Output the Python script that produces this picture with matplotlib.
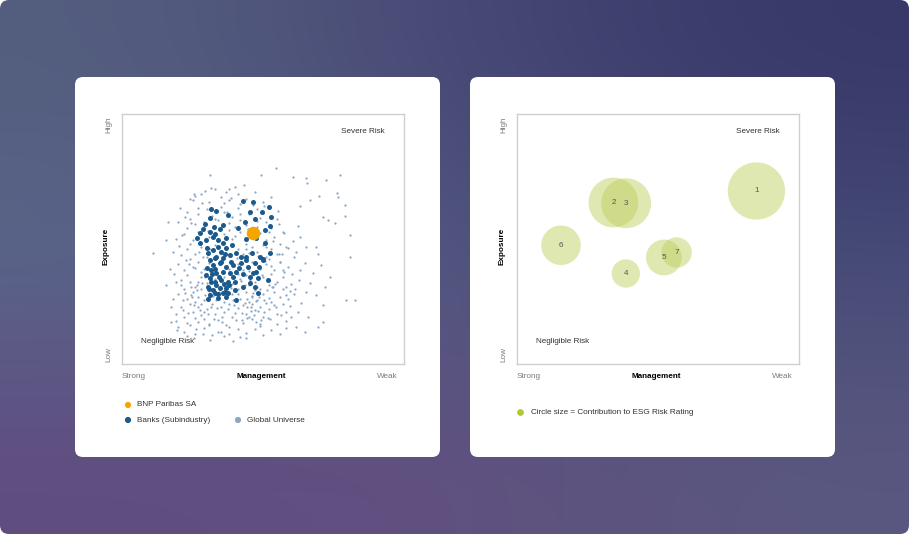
import numpy as np
import matplotlib
matplotlib.use("Agg")
import matplotlib.pyplot as plt
from matplotlib.patches import FancyBboxPatch

plt.rcParams['font.family'] = ['Liberation Sans', 'DejaVu Sans']

W, H = 909, 534

# ---- left chart: global universe (light dots), banks (dark dots), BNP (orange)
universe_x = [
    54.7, 49.4, 31.3, 60.6, 65.4, 77.2, 72.2, 65.5, 76.2, 69.8, 76.6, 66.5, 63.0, 79.0, 71.3, 79.0,
    73.1, 75.4, 62.4, 80.7, 63.2, 68.9, 65.4, 61.8, 80.7, 69.5, 64.8, 70.6, 63.0, 67.7, 73.6, 66.5,
    71.9, 65.4, 68.9, 79.5, 82.5, 63.6, 71.3, 62.4, 65.9, 71.3, 61.8, 64.8, 69.5,
    11.0, 15.5, 16.3, 15.7, 20.4, 17.5, 17.3, 19.5, 25.4, 25.2, 37.9, 44.1, 31.7,
    22, 26, 29, 32, 35, 38, 41, 44, 47, 50, 53, 56, 24, 31, 37, 43, 49, 55, 58, 27, 20, 34, 46,
    19, 22, 25, 28, 30, 33, 36, 39, 41, 44, 47, 50, 52, 55, 58, 60, 21, 24, 27, 29, 32, 35, 38, 40,
    43, 46, 49, 51, 54, 57, 26, 45,
    18, 20, 23, 25, 27, 29, 31, 34, 37, 39, 42, 44, 46, 48, 50, 52, 54, 56, 59, 61, 22, 26, 28, 36,
    41, 45, 49, 53, 57,
    19, 21, 24, 26, 28, 30, 33, 36, 39, 42, 45, 47, 50, 52, 55, 57, 60, 23, 27, 41, 44, 48, 53, 58,
    17, 20, 22, 25, 27, 29, 31, 38, 41, 43, 46, 49, 51, 54, 56, 59, 24, 28, 45, 52, 57,
    18, 21, 23, 26, 28, 30, 38, 41, 43, 46, 48, 51, 53, 55, 58, 24, 33, 44, 50, 56,
    19, 22, 25, 27, 31, 36, 39, 42, 45, 49, 51, 54, 57, 23, 29, 34, 40, 48, 53, 38, 44,
    20, 24, 27, 29, 33, 36, 39, 42, 45, 48, 51, 55, 23, 30, 38, 41, 50, 35, 26,
    24, 28, 31, 35, 38, 41, 44, 47, 50, 53, 33, 40, 36, 42,
    23.5, 25.5, 27.5, 29.5, 30.5, 32.5, 33.5, 35.5, 24.5, 26.5, 28.5, 30.5, 22.5, 21.5, 31.5, 34.5,
    37.5, 39.5, 40.5, 42.5, 44.5, 46.5, 43.5, 38.5, 47.5, 50.5, 52.5, 48.5, 51.5, 45.5,
]
universe_y = [
    78.6, 75.6, 75.6, 74.7, 74.3, 75.6, 73.6, 72.3, 68.6, 67.4, 67.0, 65.6, 63.2, 63.6, 59.0, 59.3,
    57.7, 56.6, 55.3, 51.7, 51.0, 47.0, 47.0, 45.0, 43.0, 44.1, 40.3, 39.7, 37.7, 36.4, 35.0, 32.4,
    31.0, 29.0, 27.7, 25.7, 25.7, 24.4, 23.7, 21.0, 19.0, 17.0, 15.0, 13.0, 15.0,
    44.3, 31.7, 57.0, 49.7, 62.3, 23.0, 17.0, 13.7, 67.9, 65.6, 69.9, 10.4, 70.3,
    13, 12, 14.5, 11.5, 13, 12, 14, 12.5, 14, 11.5, 13.5, 12, 15.5, 16, 15.5, 16.5, 16, 16, 14.5, 17, 15, 17.5, 18,
    20, 19, 21, 19.5, 22, 20, 21, 19, 22.5, 20, 21.5, 19, 22, 20, 21, 19, 23, 24, 23, 18, 24, 23, 24, 20.5,
    23.5, 24, 23, 24.5, 23.5, 24, 18.5, 19,
    26, 28, 26, 29, 27, 25.5, 28.5, 26, 27, 28, 26, 29, 27, 25.5, 28, 26.5, 29, 27, 26, 28, 30, 25, 30, 25,
    30, 25, 30, 25, 30,
    33, 31.5, 33, 31, 35, 32.5, 34, 35, 32, 34, 31.5, 33, 35, 31.5, 33, 35, 32, 35.5, 33, 36, 35.5, 31, 36, 31,
    38, 40, 37.5, 39, 41, 38, 40.5, 38, 40, 37.5, 41, 38, 40, 37.5, 41, 39, 42, 37, 38.5, 42, 37.5,
    45, 43.5, 46, 44, 47, 43, 44, 46, 44, 47, 45, 43, 46, 44, 47, 48, 47.5, 48, 47.5, 48,
    50, 52, 49.5, 53, 51, 52, 50, 53, 51, 52.5, 49.5, 51, 53, 54.5, 55, 50, 55, 55, 54.5, 53.5, 55.5,
    57, 58, 60, 57, 58, 61, 59, 57.5, 60, 62, 57, 58, 61, 62, 56.5, 62.5, 60.5, 63, 56,
    66, 68, 65, 67, 65.5, 68, 66, 69, 65, 67, 70, 71, 64.5, 64,
    20.5, 23.5, 21.5, 27.5, 20, 18, 25.5, 19, 27.5, 29.5, 32.5, 30.5, 28.5, 25.5, 23, 29,
    22, 25.5, 17.5, 20.5, 23, 28.5, 31.5, 30.5, 17, 21, 18, 27, 29.5, 33.5,
]

universe_x_extra = [
    19.3, 21.7, 23.1, 24.8, 26.2, 27.9, 29.1, 30.8, 32.2, 33.7, 35.3, 36.8, 38.1, 39.7, 41.2, 42.6,
    44.3, 45.8, 47.2, 48.9, 50.3, 51.7, 53.2, 54.6, 56.4, 58.1, 59.7, 61.4,
    18.6, 20.9, 22.7, 24.3, 25.9, 27.4, 29.6, 31.3, 40.8, 42.1, 43.8, 45.1, 46.7, 48.3, 49.6, 51.2,
    52.9, 54.1, 55.8, 57.3, 20.2, 23.8, 26.7, 28.9, 41.6, 44.9, 47.9, 50.8, 53.7, 56.9,
    21.3, 24.6, 27.1, 30.6, 34.2, 37.4, 40.2, 43.4, 46.3, 49.1, 52.3, 55.4, 25.8, 31.9, 38.8, 44.7,
    22.4, 28.3, 35.6, 41.9, 47.8, 53.6, 29.4, 36.9, 43.1, 50.4,
    45.9, 46.8, 47.4, 48.1, 44.2, 46.2, 43.6, 49.3, 36.3, 33.9, 31.2, 28.7, 25.4, 22.9, 39.2, 41.8,
    56.2, 58.7, 60.3, 57.6, 59.4, 61.1, 55.7, 58.2, 62.7, 60.8,
]
universe_y_extra = [
    17.3, 21.8, 16.4, 26.7, 14.2, 24.1, 20.7, 15.8, 27.4, 22.6, 16.9, 29.3, 14.8, 23.7, 28.1, 17.6,
    26.2, 21.3, 29.8, 15.3, 25.6, 18.4, 30.7, 22.9, 19.6, 27.8, 23.3, 30.2,
    36.2, 33.7, 41.8, 30.9, 38.6, 44.7, 34.8, 46.2, 42.4, 33.2, 45.9, 37.3, 30.4, 43.1, 35.6, 46.8,
    39.4, 32.1, 44.2, 36.8, 47.3, 40.1, 31.6, 42.8, 38.9, 44.6, 34.3, 41.2, 30.8, 43.9,
    51.8, 56.3, 62.4, 53.2, 57.8, 60.9, 51.2, 56.7, 63.6, 58.4, 52.7, 61.3, 67.2, 59.1, 66.4, 53.9,
    58.8, 64.3, 55.2, 60.1, 57.1, 49.1, 69.4, 68.7, 71.8, 63.2,
    22.8, 19.7, 25.1, 21.4, 18.3, 27.2, 24.6, 17.8, 11.3, 12.8, 9.8, 11.9, 10.6, 11.2, 9.4, 10.9,
    40.7, 46.3, 36.1, 52.4, 29.4, 42.8, 56.1, 17.2, 33.6, 49.2,
]

banks_x = [
    42.9, 46.5, 52.0, 45.3, 49.8, 53.0, 47.0, 43.7, 52.4, 41.1, 50.6, 44.1, 47.6, 50.6, 48.8, 52.6, 50.0,
    31.7, 33.5, 31.1, 37.6, 29.3, 32.5, 35.8, 34.9, 31.1, 27.5, 29.9, 27.5, 32.3, 34.0, 35.8,
    30.5, 32.3, 35.2, 37.0, 38.2, 33.5, 31.1, 32.3, 34.6, 37.0, 39.4, 31.7, 33.5, 35.8, 38.2, 40.5,
    31.1, 32.9, 35.2, 37.6, 40.0, 30.5, 32.3, 34.6, 37.0, 31.1, 32.9, 35.8, 30.5, 34.0, 37.0, 40.5,
    42.9, 45.3, 46.5, 47.6, 44.7, 42.3, 44.1, 47.0, 50.0, 48.2, 47.0, 48.2, 51.8, 42.3, 40.5, 34.0,
    35.8, 40.0, 37.6,
    35.0, 36.5, 33.0, 34.5, 36.0, 31.5, 33.5, 32.0, 38.5, 39.5, 34.0, 31.0, 36.5, 33.0, 30.2, 29.8,
    38.0, 41.5, 43.0, 45.5, 44.0, 46.0, 48.5, 39.0, 37.0, 33.0, 30.2, 28.6, 26.5,
]
banks_y = [
    65.4, 64.7, 62.7, 61.0, 60.7, 59.0, 58.1, 57.0, 55.3, 54.6, 53.7, 49.9, 50.3, 48.3, 43.0, 44.3, 41.9,
    62.2, 61.4, 58.3, 59.7, 56.1, 54.7, 55.7, 53.9, 53.0, 52.3, 49.7, 48.3, 50.7, 49.7, 48.6,
    44.3, 45.7, 45.0, 46.3, 43.7, 43.0, 41.7, 39.7, 40.3, 39.0, 39.7, 37.7, 36.4, 37.0, 36.4, 37.0,
    34.4, 33.0, 33.7, 33.0, 33.0, 31.0, 29.7, 30.4, 30.4, 27.7, 28.4, 28.4, 26.0, 26.4, 26.8, 25.7,
    31.0, 32.4, 36.4, 37.0, 39.0, 40.3, 43.0, 40.6, 41.7, 34.4, 31.0, 28.4, 33.7, 43.0, 44.3, 47.0,
    42.3, 29.7, 28.4,
    41.0, 44.0, 38.0, 35.0, 32.0, 33.0, 31.5, 36.0, 41.0, 35.0, 28.0, 30.0, 29.0, 42.5, 38.5, 35.5,
    31.5, 38.5, 36.0, 35.0, 41.5, 44.5, 39.0, 47.5, 50.5, 52.0, 46.5, 54.0, 50.5,
]
bnp_x, bnp_y = [46.5], [52.6]

# ---- right chart: risk drivers, circle area ~ contribution to ESG risk rating
driver_ids = ['1', '2', '3', '4', '5', '6', '7']
driver_x = [84.9, 34.2, 38.7, 38.6, 52.1, 15.6, 56.6]
driver_y = [69.2, 64.6, 64.3, 36.2, 42.6, 47.5, 44.6]
driver_contrib = [8.2, 6.2, 6.2, 2.0, 3.2, 3.9, 2.3]

LIGHT = '#8aa7c6'
DARK = '#1b5a8c'
ORANGE = '#f6a500'
GREEN = '#bccd55'
GRAY = '#7a7a7a'
TXT = '#333333'
FS = 5.9


def fx(x):
    return x / W


def fy(y):
    return 1 - y / H


fig = plt.figure(figsize=(W / 100, H / 100), dpi=100)
fig.patch.set_facecolor('white')

# background gradient with rounded corners
bg = fig.add_axes([0, 0, 1, 1])
bg.set_xlim(0, W)
bg.set_ylim(H, 0)
bg.axis('off')
corners = np.array([
    [[84, 94, 126], [72, 72, 118], [56, 56, 104]],
    [[90, 104, 140], [80, 86, 128], [70, 76, 120]],
    [[96, 76, 128], [98, 80, 128], [90, 88, 128]],
], dtype=float) / 255
im = bg.imshow(corners, extent=[0, W, H, 0], interpolation='bicubic', aspect='auto', zorder=0)
frame = FancyBboxPatch((0, 0), W, H, boxstyle='round,pad=0,rounding_size=9',
                       transform=bg.transData, facecolor='none', edgecolor='none')
bg.add_patch(frame)
im.set_clip_path(frame)

for cx in (75, 470):
    bg.add_patch(FancyBboxPatch((cx, 77), 365, 380, boxstyle='round,pad=0,rounding_size=8',
                                facecolor='white', edgecolor='none', zorder=2))


def make_axes(left_px):
    ax = fig.add_axes([fx(left_px), fy(364), 282 / W, 250 / H])
    ax.set_xlim(0, 100)
    ax.set_ylim(0, 100)
    ax.set_xticks([])
    ax.set_yticks([])
    for s in ax.spines.values():
        s.set_color('#cfcfcf')
        s.set_linewidth(1.0)
    ax.text(0.855, 0.93, 'Severe Risk', transform=ax.transAxes, ha='center', va='center',
            fontsize=FS, color=TXT)
    ax.text(0.16, 0.09, 'Negligible Risk', transform=ax.transAxes, ha='center', va='center',
            fontsize=FS, color=TXT)
    # axis words
    ax_x = left_px - 13.5
    fig.text(fx(ax_x), fy(125), 'High', rotation=90, ha='center', va='center', fontsize=FS, color=GRAY)
    fig.text(fx(ax_x), fy(355), 'Low', rotation=90, ha='center', va='center', fontsize=FS, color=GRAY)
    fig.text(fx(ax_x - 2), fy(246), 'Exposure', rotation=90, ha='center', va='center',
             fontsize=FS, color='black', fontweight='bold')
    fig.text(fx(left_px), fy(376), 'Strong', ha='left', va='center', fontsize=FS, color=GRAY)
    fig.text(fx(left_px + 139), fy(376), 'Management', ha='center', va='center', fontsize=FS,
             color='black', fontweight='bold')
    fig.text(fx(left_px + 276), fy(376), 'Weak', ha='right', va='center', fontsize=FS, color=GRAY)
    return ax


ax1 = make_axes(122)
ax1.scatter(universe_x + universe_x_extra, universe_y + universe_y_extra, s=2.6, color=LIGHT,
            linewidths=0, zorder=2)
ax1.scatter(banks_x, banks_y, s=13, color=DARK, linewidths=0, zorder=3)
ax1.scatter(bnp_x, bnp_y, s=95, color=ORANGE, linewidths=0, zorder=4)

ax2 = make_axes(517)
k = 208
ax2.scatter(driver_x, driver_y, s=[c * k for c in driver_contrib], color=GREEN, alpha=0.45,
            linewidths=0, zorder=2)
for i, x, y in zip(driver_ids, driver_x, driver_y):
    ax2.text(x, y, i, ha='center', va='center', fontsize=FS, color='#555555', zorder=3)

# legends
leg = fig.add_axes([0, 0, 1, 1], facecolor='none')
leg.set_xlim(0, W)
leg.set_ylim(H, 0)
leg.axis('off')
leg.scatter([128, 128, 238], [405, 420, 420], s=20, color=[ORANGE, DARK, LIGHT], linewidths=0)
leg.text(137, 405, 'BNP Paribas SA', ha='left', va='center', fontsize=FS, color=TXT)
leg.text(137, 420, 'Banks (Subindustry)', ha='left', va='center', fontsize=FS, color=TXT)
leg.text(247, 420, 'Global Universe', ha='left', va='center', fontsize=FS, color=TXT)
leg.scatter([520], [412], s=24, color='#b3c63a', linewidths=0)
leg.text(531, 412, 'Circle size = Contribution to ESG Risk Rating', ha='left', va='center',
         fontsize=FS, color=TXT)

fig.savefig('out.png', dpi=100)
